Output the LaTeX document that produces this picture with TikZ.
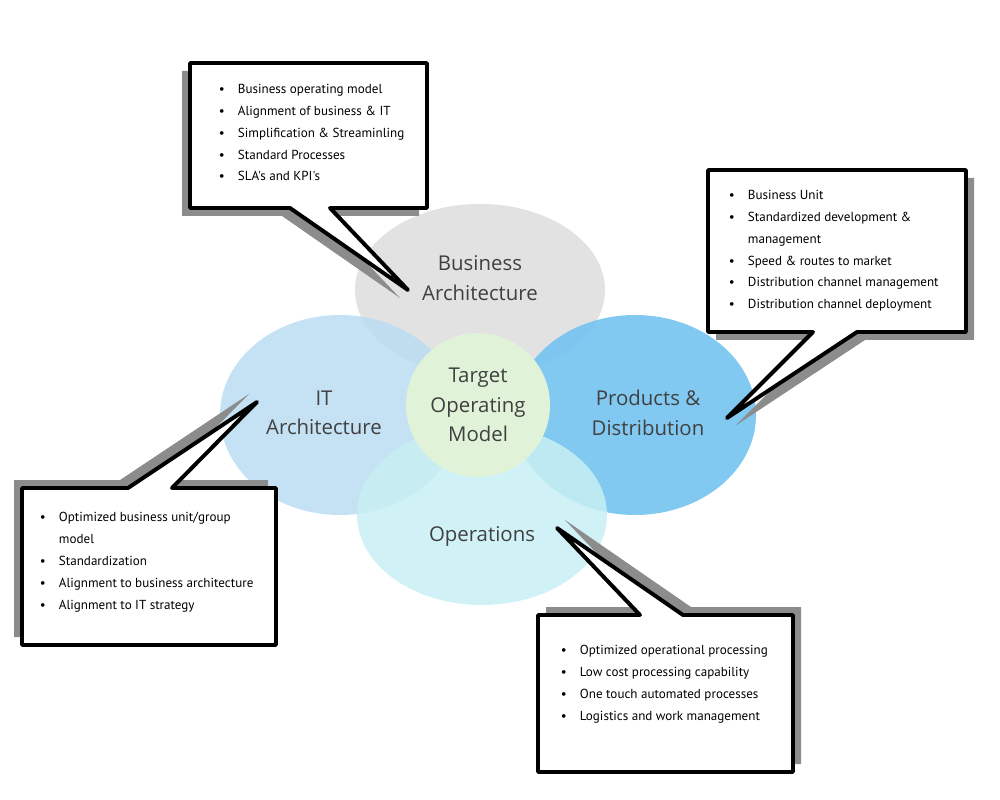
\documentclass[tikz,border=0pt]{standalone}
\usepackage{fontspec}
\setmainfont{Open Sans}
\newfontfamily\bul{PT Sans}
\definecolor{cba}{HTML}{E2E2E2}
\definecolor{cit}{HTML}{BBDDF3}
\definecolor{cpd}{HTML}{74C3F1}
\definecolor{cop}{HTML}{C8F0F4}
\definecolor{ctom}{HTML}{E0F3D8}
\begin{document}
\begin{tikzpicture}[x=0.025cm,y=-0.025cm,
  lab/.style={font=\fontsize{14.5}{21}\selectfont\color{black!75}, align=center},
  blt/.style={font=\bul\fontsize{9.3}{15.6}\selectfont, align=left, anchor=north west},
  call/.style={fill=white, draw=black, line width=2.8pt, line join=round},
  shad/.style={fill=black!45}]
\useasboundingbox (0,0) rectangle (1000,800);
% ellipses
\fill[cba] (480,290) ellipse [x radius=125, y radius=86];
\fill[cit, fill opacity=0.85] (340,415) ellipse [x radius=120, y radius=100];
\fill[cpd, fill opacity=0.9] (635,415) ellipse [x radius=121, y radius=100];
\fill[cop, fill opacity=0.85] (482,515) ellipse [x radius=125, y radius=90];
\fill[ctom] (478,405) circle [radius=72];
\node[lab] (ba) at (480,278) {Business\\Architecture};
\node[lab] (it) at (324,413) {IT\\Architecture};
\node[lab] (pd) at (648,413) {Products \&\\Distribution};
\node[lab] (op) at (482,536) {Operations};
\node[lab] (tom) at (478,405) {Target\\Operating\\Model};
% callout 1
\begin{scope}[shift={(-8,8)}]
\fill[shad] (190,63) -- (427,63) -- (427,208) -- (330,208) -- (408,290) -- (290,208) -- (190,208) -- cycle;
\end{scope}
\draw[call] (190,63) -- (427,63) -- (427,208) -- (330,208) -- (408,290) -- (290,208) -- (190,208) -- cycle;
\node[blt] (t1) at (214,79) {\textbullet\quad Business operating model\\\textbullet\quad Alignment of business \& IT\\\textbullet\quad Simplification \& Streaminling\\\textbullet\quad Standard Processes\\\textbullet\quad SLA's and KPI's};
% callout 2
\begin{scope}[shift={(8,8)}]
\fill[shad] (708,170) -- (966,170) -- (966,332) -- (857,332) -- (727,418) -- (813,332) -- (708,332) -- cycle;
\end{scope}
\draw[call] (708,170) -- (966,170) -- (966,332) -- (857,332) -- (727,418) -- (813,332) -- (708,332) -- cycle;
\node[blt] (t2) at (724,185) {\textbullet\quad Business Unit\\\textbullet\quad Standardized development \&\\\phantom{\textbullet\quad}management\\\textbullet\quad Speed \& routes to market\\\textbullet\quad Distribution channel management\\\textbullet\quad Distribution channel deployment};
% callout 3
\begin{scope}[shift={(-8,-8)}]
\fill[shad] (22,488) -- (128,488) -- (257,402) -- (172,488) -- (276,488) -- (276,645) -- (22,645) -- cycle;
\end{scope}
\draw[call] (22,488) -- (128,488) -- (257,402) -- (172,488) -- (276,488) -- (276,645) -- (22,645) -- cycle;
\node[blt] (t3) at (35,507) {\textbullet\quad Optimized business unit/group\\\phantom{\textbullet\quad}model\\\textbullet\quad Standardization\\\textbullet\quad Alignment to business architecture\\\textbullet\quad Alignment to IT strategy};
% callout 4
\begin{scope}[shift={(8,-8)}]
\fill[shad] (538,615) -- (640,615) -- (557,528) -- (683,615) -- (793,615) -- (793,772) -- (538,772) -- cycle;
\end{scope}
\draw[call] (538,615) -- (640,615) -- (557,528) -- (683,615) -- (793,615) -- (793,772) -- (538,772) -- cycle;
\node[blt] (t4) at (556,640) {\textbullet\quad Optimized operational processing\\\textbullet\quad Low cost processing capability\\\textbullet\quad One touch automated processes\\\textbullet\quad Logistics and work management};
\end{tikzpicture}
\end{document}
